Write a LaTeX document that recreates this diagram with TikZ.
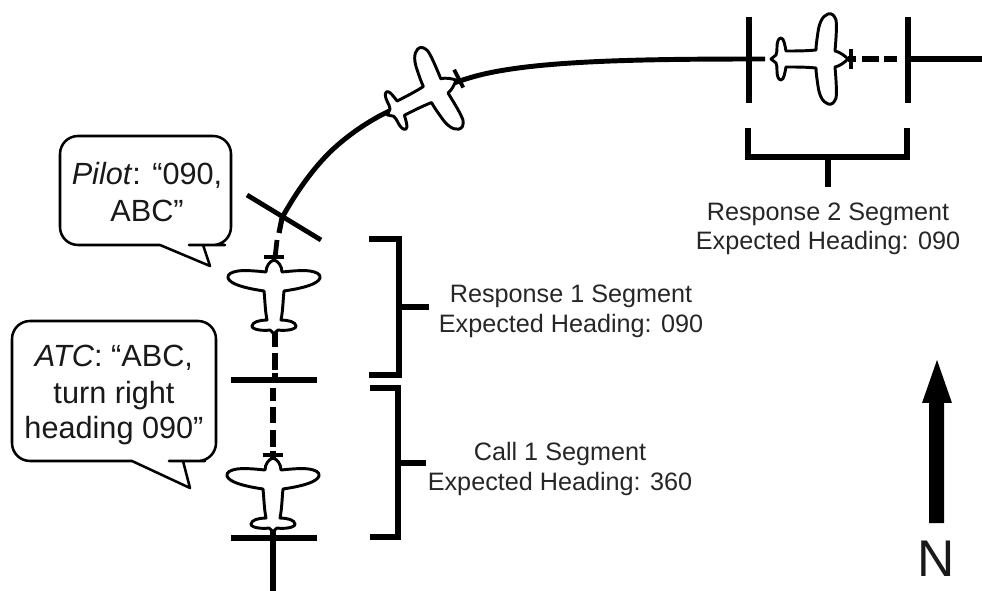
\documentclass[tikz,border=0pt]{standalone}
\usepackage{fontspec}
\setmainfont{Liberation Sans}
\newcommand{\planeA}[3]{%
  \begin{scope}[shift={(#1,#2)},rotate=#3]
    \draw[ln3] (-10,-3) -- (10,-3);
    \draw[planeline]
      (0,0) .. controls (4,1) and (8,6) .. (8,12)
      .. controls (18,11) and (28,10) .. (36,11)
      .. controls (42,12) and (47,14) .. (46,18)
      .. controls (44,24) and (30,28) .. (10,31)
      .. controls (9,40) and (9,50) .. (7,60)
      .. controls (14,60) and (22,62) .. (22,66)
      .. controls (22,70) and (10,71) .. (4,70)
      .. controls (2,71) and (1,73) .. (0,75)
      .. controls (-1,73) and (-2,71) .. (-4,70)
      .. controls (-10,71) and (-22,70) .. (-22,66)
      .. controls (-22,62) and (-14,60) .. (-7,60)
      .. controls (-9,50) and (-9,40) .. (-10,31)
      .. controls (-30,28) and (-44,24) .. (-46,18)
      .. controls (-47,14) and (-42,12) .. (-36,11)
      .. controls (-28,10) and (-18,11) .. (-8,12)
      .. controls (-8,6) and (-4,1) .. (0,0) -- cycle;
  \end{scope}}
\newcommand{\planeB}[3]{%
  \begin{scope}[shift={(#1,#2)},rotate=#3]
    \draw[ln3] (-10,-3) -- (10,-3);
    \draw[planeline]
      (0,0) .. controls (3,3) and (7,8) .. (8,13)
      .. controls (20,12) and (33,11) .. (39,12)
      .. controls (44,14) and (46,16) .. (45,20)
      .. controls (43,26) and (35,29) .. (27,30)
      .. controls (20,31) and (14,32) .. (9,32)
      .. controls (8,42) and (8,52) .. (8,62)
      .. controls (13,63) and (21,64) .. (21,67)
      .. controls (21,70) and (16,71) .. (12,71)
      .. controls (9,71) and (6,71) .. (4,72)
      -- (0,77) -- (-4,72)
      .. controls (-6,71) and (-9,71) .. (-12,71)
      .. controls (-16,71) and (-21,70) .. (-21,67)
      .. controls (-21,64) and (-13,63) .. (-8,62)
      .. controls (-8,52) and (-8,42) .. (-9,32)
      .. controls (-14,32) and (-20,31) .. (-27,30)
      .. controls (-35,29) and (-43,26) .. (-45,20)
      .. controls (-46,16) and (-44,14) .. (-39,12)
      .. controls (-33,11) and (-20,12) .. (-8,13)
      .. controls (-7,8) and (-3,3) .. (0,0) -- cycle;
  \end{scope}}
\tikzset{
  ln/.style={line width=3.9pt},
  ln3/.style={line width=2.9pt},
  planeline/.style={line width=2.2pt,fill=white,line join=round},
  callout/.style={line width=1.9pt,fill=white,line join=round},
  lbl/.style={font=\fontsize{18.9}{20}\selectfont,inner sep=0pt,text=black!85},
  bub/.style={font=\fontsize{23}{25}\selectfont,inner sep=0pt,text=black!90,anchor=base},
}
\begin{document}
\begin{tikzpicture}[x=0.75pt,y=-0.75pt]
\useasboundingbox (0,0) rectangle (982,591);
% flight path
\draw[ln] (273,591) -- (273,530);
\draw[ln] (231,538) -- (317,538);
\draw[ln] (231,380) -- (317,380);
\draw[ln] (273,388) -- (273,401);
\draw[ln] (273,407) -- (273,423);
\draw[ln] (273,430) -- (273,447);
\draw[ln] (273,451) -- (273,458);
\draw[ln] (275,330) -- (275,347);
\draw[ln] (275,353) -- (275,370);
\draw[ln] (275,373) -- (275,378);
\draw[line width=3.6pt] (277,240) -- (275,258);
\draw[ln] (279,233) -- (282,218);
\draw[line width=3.6pt] (247,195) -- (321,240);
\draw[line width=3.7pt] (283,216) .. controls (296,193) and (311,171) .. (330,152)
  .. controls (351,132) and (375,117) .. (396,108)
  .. controls (420,96) and (452,82) .. (480,75)
  .. controls (540,60) and (650,59) .. (765,59);
% segment bars on the right
\draw[line width=4.3pt] (749,17) -- (749,103);
\draw[line width=4.3pt] (908,17) -- (908,103);
\draw[ln] (848,59) -- (856,59);
\draw[ln] (862,59) -- (879,59);
\draw[ln] (884,59) -- (897,59);
\draw[ln] (908,59) -- (982,59);
% planes
\planeA{274}{260}{0}
\planeA{273}{458}{0}
\planeB{456}{80}{-63}
\planeB{848}{59}{-90}
% brackets
\draw[ln] (369,239) -- (399,239) -- (399,375) -- (369,375);
\draw[ln] (399,307) -- (429,307);
\draw[ln] (370,388) -- (398,388) -- (398,537) -- (370,537);
\draw[ln] (398,463) -- (426,463);
\draw[ln] (748,128) -- (748,157) -- (907,157) -- (907,128);
\draw[ln] (828,157) -- (828,187);
% labels
\node[lbl] (r2a) at (828,214) {Response 2 Segment};
\node[lbl] (r2b) at (828,243) {Expected Heading: 090};
\node[lbl] (r1a) at (571,296) {Response 1 Segment};
\node[lbl] (r1b) at (571,326) {Expected Heading: 090};
\node[lbl] (c1a) at (560,454) {Call 1 Segment};
\node[lbl] (c1b) at (560,484) {Expected Heading: 360};
% callouts
\draw[callout,rounded corners=18*0.75pt] (60,136) -- (231,136) -- (231,245) -- (207,245)
  [sharp corners] -- (203,245) -- (210,266) -- (160,245) [rounded corners=18*0.75pt] -- (60,245) -- cycle;
\draw[callout,rounded corners=18*0.75pt] (12,321) -- (216,321) -- (216,461) -- (187,461)
  [sharp corners] -- (183,461) -- (190,488) -- (132,461) [rounded corners=18*0.75pt] -- (12,461) -- cycle;
\node[bub] (p1) at (147,185) {\textit{Pilot}: “090,};
\node[bub] (p2) at (147,222) {ABC”};
\node[bub] (a1) at (114,367) {\textit{ATC}: “ABC,};
\node[bub] (a2) at (114,404) {turn right};
\node[bub] (a3) at (114,439) {heading 090”};
% north arrow
\fill (929,523) -- (929,403) -- (922,403) -- (937,360) -- (952,403) -- (944,403) -- (944,523) -- cycle;
\node[font=\fontsize{38.7}{40}\selectfont,inner sep=0pt,text=black!90] (north) at (936,559) {N};
\end{tikzpicture}
\end{document}
